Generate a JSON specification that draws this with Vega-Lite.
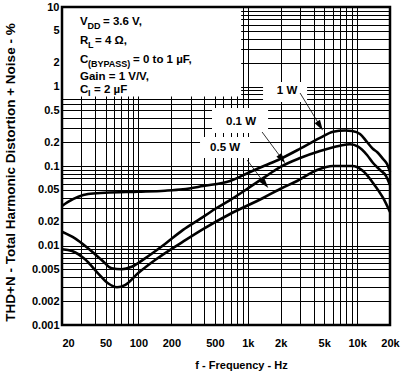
{
  "$schema": "https://vega.github.io/schema/vega-lite/v6.json",
  "width": 328,
  "height": 318,
  "autosize": "none",
  "padding": {"left": 62, "top": 7, "right": 15, "bottom": 50},
  "background": "white",
  "datasets": {
    "curves": [
      {"s": "1 W", "f": 20, "v": 0.0314}, {"s": "1 W", "f": 22.7, "v": 0.0353}, {"s": "1 W", "f": 34.6, "v": 0.0444},
      {"s": "1 W", "f": 49.5, "v": 0.0461}, {"s": "1 W", "f": 99, "v": 0.0475}, {"s": "1 W", "f": 175, "v": 0.0489},
      {"s": "1 W", "f": 256, "v": 0.0509}, {"s": "1 W", "f": 390, "v": 0.056}, {"s": "1 W", "f": 689, "v": 0.0648},
      {"s": "1 W", "f": 1050, "v": 0.0842}, {"s": "1 W", "f": 1439, "v": 0.1014}, {"s": "1 W", "f": 1976, "v": 0.1225},
      {"s": "1 W", "f": 3013, "v": 0.165}, {"s": "1 W", "f": 4581, "v": 0.226}, {"s": "1 W", "f": 6030, "v": 0.27},
      {"s": "1 W", "f": 7764, "v": 0.28}, {"s": "1 W", "f": 9000, "v": 0.2756}, {"s": "1 W", "f": 10640, "v": 0.253},
      {"s": "1 W", "f": 12330, "v": 0.2004}, {"s": "1 W", "f": 14000, "v": 0.1637}, {"s": "1 W", "f": 15240, "v": 0.15},
      {"s": "1 W", "f": 17300, "v": 0.1225}, {"s": "1 W", "f": 18800, "v": 0.106}, {"s": "1 W", "f": 20000, "v": 0.0842},
      {"s": "0.1 W", "f": 20, "v": 0.0149}, {"s": "0.1 W", "f": 26.3, "v": 0.0123}, {"s": "0.1 W", "f": 34.6, "v": 0.00923},
      {"s": "0.1 W", "f": 46.1, "v": 0.00657}, {"s": "0.1 W", "f": 57, "v": 0.00516}, {"s": "0.1 W", "f": 70.3, "v": 0.00502},
      {"s": "0.1 W", "f": 86.8, "v": 0.0054}, {"s": "0.1 W", "f": 115, "v": 0.0069}, {"s": "0.1 W", "f": 175, "v": 0.01045},
      {"s": "0.1 W", "f": 256, "v": 0.0157}, {"s": "0.1 W", "f": 366, "v": 0.0216}, {"s": "0.1 W", "f": 502, "v": 0.0288},
      {"s": "0.1 W", "f": 689, "v": 0.0373}, {"s": "0.1 W", "f": 1050, "v": 0.0545}, {"s": "0.1 W", "f": 1439, "v": 0.073},
      {"s": "0.1 W", "f": 1976, "v": 0.097}, {"s": "0.1 W", "f": 3013, "v": 0.126}, {"s": "0.1 W", "f": 4581, "v": 0.1545},
      {"s": "0.1 W", "f": 6984, "v": 0.18}, {"s": "0.1 W", "f": 8630, "v": 0.1875}, {"s": "0.1 W", "f": 10220, "v": 0.175},
      {"s": "0.1 W", "f": 12330, "v": 0.1375}, {"s": "0.1 W", "f": 14000, "v": 0.109}, {"s": "0.1 W", "f": 16220, "v": 0.0891},
      {"s": "0.1 W", "f": 18420, "v": 0.0748}, {"s": "0.1 W", "f": 20000, "v": 0.0577},
      {"s": "0.5 W", "f": 20, "v": 0.00896}, {"s": "0.5 W", "f": 24.7, "v": 0.00853}, {"s": "0.5 W", "f": 32.5, "v": 0.0067},
      {"s": "0.5 W", "f": 42.7, "v": 0.00447}, {"s": "0.5 W", "f": 52.7, "v": 0.00335}, {"s": "0.5 W", "f": 63.7, "v": 0.00298},
      {"s": "0.5 W", "f": 75.4, "v": 0.00318}, {"s": "0.5 W", "f": 99, "v": 0.00447}, {"s": "0.5 W", "f": 142, "v": 0.00657},
      {"s": "0.5 W", "f": 256, "v": 0.0112}, {"s": "0.5 W", "f": 390, "v": 0.0161}, {"s": "0.5 W", "f": 689, "v": 0.0249},
      {"s": "0.5 W", "f": 1380, "v": 0.0396}, {"s": "0.5 W", "f": 1976, "v": 0.0514}, {"s": "0.5 W", "f": 2825, "v": 0.0648},
      {"s": "0.5 W", "f": 4307, "v": 0.0891}, {"s": "0.5 W", "f": 6030, "v": 0.1}, {"s": "0.5 W", "f": 9000, "v": 0.1},
      {"s": "0.5 W", "f": 11350, "v": 0.0865}, {"s": "0.5 W", "f": 14000, "v": 0.0611}, {"s": "0.5 W", "f": 17300, "v": 0.0396},
      {"s": "0.5 W", "f": 20000, "v": 0.0264}
    ],
    "boxes": [
      {"f": 20, "f2": 870, "v": 10, "v2": 0.75},
      {"f": 1380, "f2": 3488, "v": 1.139, "v2": 0.638},
      {"f": 471, "f2": 1534, "v": 0.5366, "v2": 0.26},
      {"f": 366, "f2": 1050, "v": 0.2316, "v2": 0.126}
    ],
    "mainText": [
      {"f": 29.2, "v": 6.48, "t": "V"},
      {"f": 47.4, "v": 6.48, "t": "= 3.6 V,"},
      {"f": 29.2, "v": 3.74, "t": "R"},
      {"f": 40.1, "v": 3.74, "t": "= 4 Ω,"},
      {"f": 29.2, "v": 2.155, "t": "C"},
      {"f": 89.3, "v": 2.155, "t": "= 0 to 1 µF,"},
      {"f": 29.2, "v": 1.317, "t": "Gain = 1 V/V,"},
      {"f": 29.2, "v": 0.904, "t": "C"},
      {"f": 39.3, "v": 0.904, "t": "= 2 µF"}
    ],
    "subText": [
      {"f": 34.2, "v": 5.77, "t": "DD"},
      {"f": 34.6, "v": 3.33, "t": "L"},
      {"f": 34.6, "v": 1.946, "t": "(BYPASS)"},
      {"f": 34.6, "v": 0.828, "t": "I"}
    ],
    "labels": [
      {"f": 2288, "v": 0.878, "t": "1 W"},
      {"f": 868, "v": 0.3576, "t": "0.1 W"},
      {"f": 620, "v": 0.1684, "t": "0.5 W"}
    ],
    "arrows": [
      {"f": 3010, "v": 0.828, "f2": 4588, "v2": 0.319, "a": 148},
      {"f": 1352, "v": 0.2677, "f2": 2060, "v2": 0.1225, "a": 143},
      {"f": 986, "v": 0.119, "f2": 1440, "v2": 0.0594, "a": 142}
    ],
    "frame": [{"f": 20, "f2": 20000, "v": 0.001, "v2": 10}]
  },
  "encoding": {
    "x": {
      "field": "f", "type": "quantitative",
      "scale": {"type": "log", "domain": [20, 20000], "nice": false},
      "axis": {
        "title": "f - Frequency - Hz",
        "values": [20,30,40,50,60,70,80,90,100,200,300,400,500,600,700,800,900,1000,2000,3000,4000,5000,6000,7000,8000,9000,10000,20000],
        "labelExpr": "indexof([20,50,100,200,500,1000,2000,5000,10000,20000], datum.value) >= 0 ? (datum.value >= 1000 ? (datum.value/1000) + 'k' : '' + datum.value) : ''",
        "labelFlush": false,
        "labelAlign": {"condition": {"test": "datum.value == 20", "value": "left"}, "value": "center"},
        "labelPadding": 12,
        "titleFontSize": 11,
        "titleX": 179,
        "titleY": 34,
        "titleBaseline": "top"
      }
    },
    "y": {
      "field": "v", "type": "quantitative",
      "scale": {"type": "log", "domain": [0.001, 10], "nice": false},
      "axis": {
        "title": "THD+N - Total Harmonic Distortion + Noise - %",
        "values": [0.001,0.002,0.003,0.004,0.005,0.006,0.007,0.008,0.009,0.01,0.02,0.03,0.04,0.05,0.06,0.07,0.08,0.09,0.1,0.2,0.3,0.4,0.5,0.6,0.7,0.8,0.9,1,2,3,4,5,6,7,8,9,10],
        "labelExpr": "indexof([0.001,0.002,0.005,0.01,0.02,0.05,0.1,0.2,0.5,1,2,5,10], datum.value) >= 0 ? '' + datum.value : ''",
        "labelPadding": 3,
        "labelFlush": false,
        "titleFontSize": 13.5,
        "titleX": -45,
        "titleY": 165,
        "titleBaseline": "bottom"
      }
    }
  },
  "layer": [
    {
      "data": {"name": "curves"},
      "mark": {"type": "line", "color": "black", "strokeWidth": 2.6, "interpolate": "monotone"},
      "encoding": {"detail": {"field": "s"}}
    },
    {
      "data": {"name": "boxes"},
      "mark": {"type": "rect", "fill": "white", "stroke": null},
      "encoding": {"x2": {"field": "f2"}, "y2": {"field": "v2"}}
    },
    {
      "data": {"name": "mainText"},
      "mark": {"type": "text", "align": "left", "baseline": "middle", "font": "Liberation Sans", "fontWeight": "bold", "fontSize": 11.5, "color": "black"},
      "encoding": {"text": {"field": "t"}}
    },
    {
      "data": {"name": "subText"},
      "mark": {"type": "text", "align": "left", "baseline": "middle", "font": "Liberation Sans", "fontWeight": "bold", "fontSize": 9, "color": "black"},
      "encoding": {"text": {"field": "t"}}
    },
    {
      "data": {"name": "labels"},
      "mark": {"type": "text", "align": "center", "baseline": "middle", "font": "Liberation Sans", "fontWeight": "bold", "fontSize": 11.5, "color": "black"},
      "encoding": {"text": {"field": "t"}}
    },
    {
      "data": {"name": "arrows"},
      "mark": {"type": "rule", "color": "black", "strokeWidth": 0.8},
      "encoding": {"x2": {"field": "f2"}, "y2": {"field": "v2"}}
    },
    {
      "data": {"name": "arrows"},
      "mark": {"type": "point", "shape": "M0,-1L0.6,1L-0.6,1Z", "filled": true, "color": "black", "size": 110, "opacity": 1},
      "encoding": {
        "x": {"field": "f2", "type": "quantitative"},
        "y": {"field": "v2", "type": "quantitative"},
        "angle": {"field": "a", "type": "quantitative", "scale": null}
      }
    },
    {
      "data": {"name": "frame"},
      "mark": {"type": "rect", "fillOpacity": 0, "stroke": "black", "strokeWidth": 2.5},
      "encoding": {"x2": {"field": "f2"}, "y2": {"field": "v2"}}
    }
  ],
  "config": {
    "view": {"stroke": null},
    "axis": {
      "grid": true, "gridColor": "black", "gridOpacity": 1, "gridWidth": 1,
      "ticks": false, "domain": false,
      "labelFont": "Liberation Sans", "labelFontWeight": "bold", "labelFontSize": 11, "labelColor": "black",
      "titleFont": "Liberation Sans", "titleFontWeight": "bold", "titleColor": "black",
      "labelOverlap": false, "labelBound": false
    }
  }
}
